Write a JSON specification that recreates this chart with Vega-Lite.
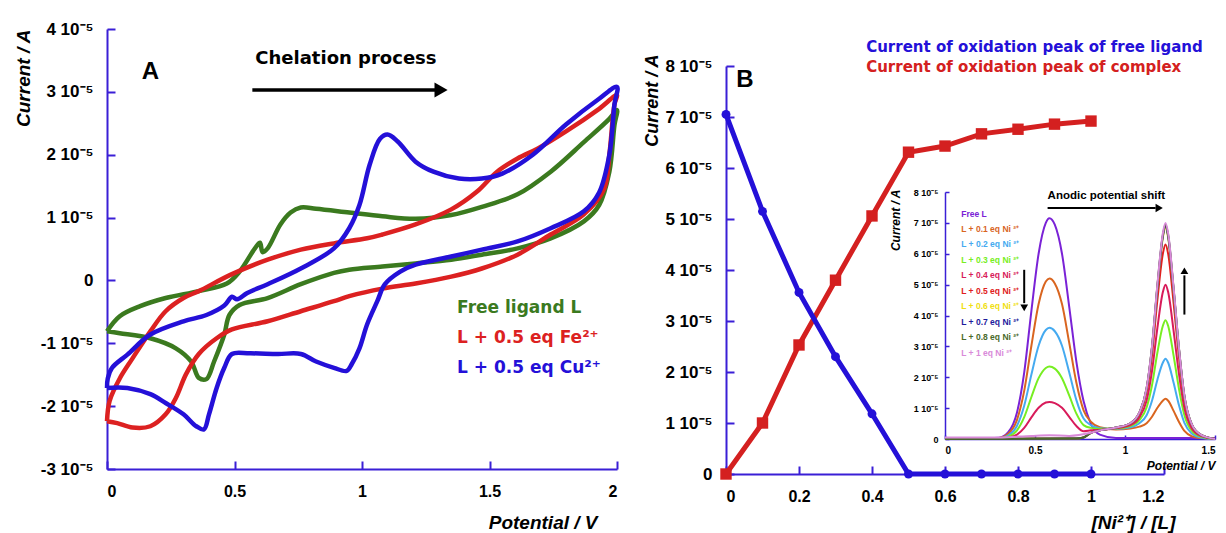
{
  "$schema": "https://vega.github.io/schema/vega-lite/v6.json",
  "autosize": {"type": "pad"},
  "padding": {"left": 13, "top": 20, "right": 5, "bottom": 5},
  "background": "white",
  "bounds": "flush",
  "spacing": 109,
  "config": {
    "view": {"stroke": null},
    "axis": {
      "grid": false,
      "domainColor": "#3a1fd6",
      "tickColor": "#3a1fd6",
      "domainWidth": 2,
      "tickWidth": 2,
      "tickSize": -8,
      "labelFont": "Liberation Sans",
      "labelFontWeight": "bold",
      "labelFontSize": 16,
      "labelColor": "#000000",
      "titleFont": "Liberation Sans",
      "titleFontStyle": "italic",
      "titleFontWeight": "bold",
      "titleFontSize": 19,
      "titleColor": "#000000"
    }
  },
  "resolve": {"scale": {"color": "independent"}},
  "hconcat": [
    {
      "width": 510,
      "height": 440,
      "layer": [
        {
          "data": {"values": [
            {"c":"free","o":1,"v":0,"i":-0.81},{"c":"free","o":2,"v":0.05,"i":-0.57},{"c":"free","o":3,"v":0.13,"i":-0.41},{"c":"free","o":4,"v":0.23,"i":-0.28},{"c":"free","o":5,"v":0.36,"i":-0.17},{"c":"free","o":6,"v":0.47,"i":-0.05},{"c":"free","o":7,"v":0.52,"i":0.14},{"c":"free","o":8,"v":0.58,"i":0.51},{"c":"free","o":9,"v":0.6,"i":0.6},{"c":"free","o":10,"v":0.61,"i":0.45},{"c":"free","o":11,"v":0.63,"i":0.51},{"c":"free","o":12,"v":0.68,"i":0.89},{"c":"free","o":13,"v":0.72,"i":1.08},{"c":"free","o":14,"v":0.76,"i":1.16},{"c":"free","o":15,"v":0.82,"i":1.14},{"c":"free","o":16,"v":0.95,"i":1.08},{"c":"free","o":17,"v":1.08,"i":1.02},{"c":"free","o":18,"v":1.21,"i":0.98},{"c":"free","o":19,"v":1.35,"i":1.04},{"c":"free","o":20,"v":1.47,"i":1.17},{"c":"free","o":21,"v":1.61,"i":1.37},{"c":"free","o":22,"v":1.74,"i":1.73},{"c":"free","o":23,"v":1.87,"i":2.2},{"c":"free","o":24,"v":1.97,"i":2.57},{"c":"free","o":25,"v":2.0,"i":2.71},{"c":"free","o":26,"v":1.99,"i":2.47},{"c":"free","o":27,"v":1.97,"i":1.73},{"c":"free","o":28,"v":1.93,"i":1.2},{"c":"free","o":29,"v":1.87,"i":0.94},{"c":"free","o":30,"v":1.74,"i":0.67},{"c":"free","o":31,"v":1.61,"i":0.51},{"c":"free","o":32,"v":1.47,"i":0.41},{"c":"free","o":33,"v":1.35,"i":0.33},{"c":"free","o":34,"v":1.21,"i":0.27},{"c":"free","o":35,"v":1.08,"i":0.22},{"c":"free","o":36,"v":0.95,"i":0.17},{"c":"free","o":37,"v":0.89,"i":0.12},{"c":"free","o":38,"v":0.76,"i":-0.06},{"c":"free","o":39,"v":0.63,"i":-0.28},{"c":"free","o":40,"v":0.52,"i":-0.39},{"c":"free","o":41,"v":0.48,"i":-0.55},{"c":"free","o":42,"v":0.46,"i":-0.86},{"c":"free","o":43,"v":0.42,"i":-1.29},{"c":"free","o":44,"v":0.39,"i":-1.57},{"c":"free","o":45,"v":0.36,"i":-1.55},{"c":"free","o":46,"v":0.33,"i":-1.29},{"c":"free","o":47,"v":0.27,"i":-1.08},{"c":"free","o":48,"v":0.17,"i":-0.92},{"c":"free","o":49,"v":0.05,"i":-0.84},{"c":"free","o":50,"v":0,"i":-0.81},
            {"c":"Fe","o":1,"v":0,"i":-2.24},{"c":"Fe","o":2,"v":0.01,"i":-1.92},{"c":"Fe","o":3,"v":0.05,"i":-1.56},{"c":"Fe","o":4,"v":0.1,"i":-1.24},{"c":"Fe","o":5,"v":0.17,"i":-0.81},{"c":"Fe","o":6,"v":0.23,"i":-0.49},{"c":"Fe","o":7,"v":0.3,"i":-0.28},{"c":"Fe","o":8,"v":0.36,"i":-0.17},{"c":"Fe","o":9,"v":0.49,"i":0.1},{"c":"Fe","o":10,"v":0.63,"i":0.33},{"c":"Fe","o":11,"v":0.76,"i":0.49},{"c":"Fe","o":12,"v":0.89,"i":0.59},{"c":"Fe","o":13,"v":1.02,"i":0.67},{"c":"Fe","o":14,"v":1.08,"i":0.73},{"c":"Fe","o":15,"v":1.21,"i":0.89},{"c":"Fe","o":16,"v":1.35,"i":1.13},{"c":"Fe","o":17,"v":1.45,"i":1.41},{"c":"Fe","o":18,"v":1.53,"i":1.73},{"c":"Fe","o":19,"v":1.61,"i":1.94},{"c":"Fe","o":20,"v":1.69,"i":2.1},{"c":"Fe","o":21,"v":1.8,"i":2.37},{"c":"Fe","o":22,"v":1.93,"i":2.73},{"c":"Fe","o":23,"v":2.0,"i":2.95},{"c":"Fe","o":24,"v":1.99,"i":2.8},{"c":"Fe","o":25,"v":1.97,"i":2.0},{"c":"Fe","o":26,"v":1.95,"i":1.46},{"c":"Fe","o":27,"v":1.87,"i":1.05},{"c":"Fe","o":28,"v":1.74,"i":0.73},{"c":"Fe","o":29,"v":1.61,"i":0.41},{"c":"Fe","o":30,"v":1.47,"i":0.19},{"c":"Fe","o":31,"v":1.35,"i":0.06},{"c":"Fe","o":32,"v":1.21,"i":-0.05},{"c":"Fe","o":33,"v":1.08,"i":-0.13},{"c":"Fe","o":34,"v":0.95,"i":-0.25},{"c":"Fe","o":35,"v":0.89,"i":-0.33},{"c":"Fe","o":36,"v":0.76,"i":-0.49},{"c":"Fe","o":37,"v":0.63,"i":-0.65},{"c":"Fe","o":38,"v":0.49,"i":-0.78},{"c":"Fe","o":39,"v":0.43,"i":-0.92},{"c":"Fe","o":40,"v":0.36,"i":-1.17},{"c":"Fe","o":41,"v":0.31,"i":-1.49},{"c":"Fe","o":42,"v":0.27,"i":-1.87},{"c":"Fe","o":43,"v":0.23,"i":-2.13},{"c":"Fe","o":44,"v":0.17,"i":-2.32},{"c":"Fe","o":45,"v":0.1,"i":-2.34},{"c":"Fe","o":46,"v":0.04,"i":-2.27},{"c":"Fe","o":47,"v":0,"i":-2.24},
            {"c":"Cu","o":1,"v":0,"i":-1.71},{"c":"Cu","o":2,"v":0.003,"i":-1.56},{"c":"Cu","o":3,"v":0.02,"i":-1.39},{"c":"Cu","o":4,"v":0.08,"i":-1.18},{"c":"Cu","o":5,"v":0.17,"i":-0.86},{"c":"Cu","o":6,"v":0.3,"i":-0.65},{"c":"Cu","o":7,"v":0.39,"i":-0.55},{"c":"Cu","o":8,"v":0.46,"i":-0.4},{"c":"Cu","o":9,"v":0.49,"i":-0.26},{"c":"Cu","o":10,"v":0.51,"i":-0.3},{"c":"Cu","o":11,"v":0.55,"i":-0.2},{"c":"Cu","o":12,"v":0.63,"i":-0.06},{"c":"Cu","o":13,"v":0.76,"i":0.19},{"c":"Cu","o":14,"v":0.89,"i":0.51},{"c":"Cu","o":15,"v":0.95,"i":0.83},{"c":"Cu","o":16,"v":0.99,"i":1.2},{"c":"Cu","o":17,"v":1.03,"i":1.84},{"c":"Cu","o":18,"v":1.07,"i":2.25},{"c":"Cu","o":19,"v":1.1,"i":2.32},{"c":"Cu","o":20,"v":1.14,"i":2.21},{"c":"Cu","o":21,"v":1.21,"i":1.89},{"c":"Cu","o":22,"v":1.28,"i":1.73},{"c":"Cu","o":23,"v":1.38,"i":1.62},{"c":"Cu","o":24,"v":1.47,"i":1.62},{"c":"Cu","o":25,"v":1.55,"i":1.7},{"c":"Cu","o":26,"v":1.67,"i":2.0},{"c":"Cu","o":27,"v":1.8,"i":2.48},{"c":"Cu","o":28,"v":1.93,"i":2.89},{"c":"Cu","o":29,"v":2.0,"i":3.08},{"c":"Cu","o":30,"v":1.99,"i":2.8},{"c":"Cu","o":31,"v":1.97,"i":2.0},{"c":"Cu","o":32,"v":1.93,"i":1.4},{"c":"Cu","o":33,"v":1.87,"i":1.1},{"c":"Cu","o":34,"v":1.74,"i":0.83},{"c":"Cu","o":35,"v":1.61,"i":0.62},{"c":"Cu","o":36,"v":1.47,"i":0.49},{"c":"Cu","o":37,"v":1.35,"i":0.38},{"c":"Cu","o":38,"v":1.21,"i":0.25},{"c":"Cu","o":39,"v":1.15,"i":0.14},{"c":"Cu","o":40,"v":1.09,"i":-0.06},{"c":"Cu","o":41,"v":1.06,"i":-0.33},{"c":"Cu","o":42,"v":1.02,"i":-0.7},{"c":"Cu","o":43,"v":0.99,"i":-1.08},{"c":"Cu","o":44,"v":0.96,"i":-1.33},{"c":"Cu","o":45,"v":0.94,"i":-1.44},{"c":"Cu","o":46,"v":0.89,"i":-1.39},{"c":"Cu","o":47,"v":0.82,"i":-1.29},{"c":"Cu","o":48,"v":0.76,"i":-1.17},{"c":"Cu","o":49,"v":0.67,"i":-1.17},{"c":"Cu","o":50,"v":0.56,"i":-1.16},{"c":"Cu","o":51,"v":0.49,"i":-1.17},{"c":"Cu","o":52,"v":0.46,"i":-1.39},{"c":"Cu","o":53,"v":0.43,"i":-1.71},{"c":"Cu","o":54,"v":0.4,"i":-2.13},{"c":"Cu","o":55,"v":0.38,"i":-2.37},{"c":"Cu","o":56,"v":0.35,"i":-2.32},{"c":"Cu","o":57,"v":0.3,"i":-2.13},{"c":"Cu","o":58,"v":0.23,"i":-1.95},{"c":"Cu","o":59,"v":0.17,"i":-1.81},{"c":"Cu","o":60,"v":0.08,"i":-1.71},{"c":"Cu","o":61,"v":0,"i":-1.71}
          ]},
          "mark": {"type": "line", "strokeWidth": 4.5, "interpolate": "catmull-rom"},
          "encoding": {
            "x": {"field": "v", "type": "quantitative", "scale": {"domain": [0, 2], "nice": false},
                  "axis": {"values": [0, 0.5, 1, 1.5, 2], "format": "~g", "labelPadding": 22, "title": "Potential / V", "titleAlign": "right", "titleX": 490, "titleY": 53, "titleBaseline": "middle"}},
            "y": {"field": "i", "type": "quantitative", "scale": {"domain": [-3, 4], "nice": false, "zero": false},
                  "axis": {"values": [-3, -2, -1, 0, 1, 2, 3, 4], "labelFontSize": 17, "labelExpr": "datum.value == 0 ? '0' : datum.value + ' 10⁻⁵'", "labelPadding": 22, "title": "Current / A", "titleAlign": "right", "titleX": -84, "titleY": 0, "titleBaseline": "middle"}},
            "color": {"field": "c", "type": "nominal", "scale": {"domain": ["free", "Fe", "Cu"], "range": ["#3b7a1f", "#dc2121", "#2410d8"]}, "legend": null},
            "order": {"field": "o", "type": "quantitative"}
          }
        },
        {"data": {"values": [{}]}, "mark": {"type": "text", "text": "A", "font": "Liberation Sans", "fontWeight": "bold", "fontSize": 24, "color": "#000000"}, "encoding": {"x": {"datum": 0.17}, "y": {"datum": 3.32}}},
        {"data": {"values": [{}]}, "mark": {"type": "text", "text": "Chelation process", "font": "DejaVu Sans", "fontWeight": "bold", "fontSize": 18, "color": "#000000"}, "encoding": {"x": {"datum": 0.937}, "y": {"datum": 3.52}}},
        {"data": {"values": [{}]}, "mark": {"type": "rule", "strokeWidth": 3.5, "color": "#000000"}, "encoding": {"x": {"datum": 0.57}, "x2": {"datum": 1.29}, "y": {"datum": 3.03}}},
        {"data": {"values": [{}]}, "mark": {"type": "point", "shape": "triangle-right", "filled": true, "opacity": 1, "size": 230, "color": "#000000"}, "encoding": {"x": {"datum": 1.31}, "y": {"datum": 3.03}}},
        {"data": {"values": [{}]}, "mark": {"type": "text", "text": "Free ligand L", "align": "left", "font": "DejaVu Sans", "fontWeight": "bold", "fontSize": 17, "color": "#3b7a1f"}, "encoding": {"x": {"datum": 1.373}, "y": {"datum": -0.44}}},
        {"data": {"values": [{}]}, "mark": {"type": "text", "text": "L + 0.5 eq Fe²⁺", "align": "left", "font": "DejaVu Sans", "fontWeight": "bold", "fontSize": 17, "color": "#dc2121"}, "encoding": {"x": {"datum": 1.373}, "y": {"datum": -0.92}}},
        {"data": {"values": [{}]}, "mark": {"type": "text", "text": "L + 0.5 eq Cu²⁺", "align": "left", "font": "DejaVu Sans", "fontWeight": "bold", "fontSize": 17, "color": "#2410d8"}, "encoding": {"x": {"datum": 1.373}, "y": {"datum": -1.4}}}
      ]
    },
    {
      "width": 438,
      "height": 445,
      "resolve": {"scale": {"x": "independent", "y": "independent"}, "axis": {"x": "independent", "y": "independent"}},
      "layer": [
        {
          "layer": [
            {
              "data": {"values": [
                {"r":0,"s":"free","i":7.05},{"r":0.1,"s":"free","i":5.15},{"r":0.2,"s":"free","i":3.56},{"r":0.3,"s":"free","i":2.3},{"r":0.4,"s":"free","i":1.18},{"r":0.5,"s":"free","i":0},{"r":0.6,"s":"free","i":0},{"r":0.7,"s":"free","i":0},{"r":0.8,"s":"free","i":0},{"r":0.9,"s":"free","i":0},{"r":1.0,"s":"free","i":0},
                {"r":0,"s":"complex","i":0},{"r":0.1,"s":"complex","i":1.0},{"r":0.2,"s":"complex","i":2.53},{"r":0.3,"s":"complex","i":3.8},{"r":0.4,"s":"complex","i":5.06},{"r":0.5,"s":"complex","i":6.31},{"r":0.6,"s":"complex","i":6.43},{"r":0.7,"s":"complex","i":6.67},{"r":0.8,"s":"complex","i":6.76},{"r":0.9,"s":"complex","i":6.86},{"r":1.0,"s":"complex","i":6.92}
              ]},
              "layer": [
                {
                  "transform": [{"filter": "datum.s == 'complex'"}],
                  "mark": {"type": "line", "color": "#d42020", "strokeWidth": 5, "point": {"filled": true, "shape": "square", "size": 130, "color": "#d42020"}},
                  "encoding": {
                    "x": {"field": "r", "type": "quantitative", "scale": {"domain": [0, 1.2], "nice": false},
                          "axis": {"values": [0, 0.2, 0.4, 0.6, 0.8, 1, 1.2], "format": "~g", "labelPadding": 22, "title": "[Ni²⁺] / [L]", "titleAlign": "right", "titleX": 449, "titleY": 48, "titleBaseline": "middle"}},
                    "y": {"field": "i", "type": "quantitative", "scale": {"domain": [0, 8], "nice": false, "range": [445, 37]},
                          "axis": {"values": [0, 1, 2, 3, 4, 5, 6, 7, 8], "labelFontSize": 17, "labelExpr": "datum.value == 0 ? '0' : datum.value + ' 10⁻⁵'", "labelPadding": 22, "title": "Current / A", "titleFontSize": 18, "titleAlign": "right", "titleX": -74, "titleY": 25, "titleBaseline": "middle"}}
                  }
                },
                {
                  "transform": [{"filter": "datum.s == 'free'"}],
                  "mark": {"type": "line", "color": "#2410d8", "strokeWidth": 5, "point": {"filled": true, "shape": "circle", "size": 80, "color": "#2410d8"}},
                  "encoding": {
                    "x": {"field": "r", "type": "quantitative"},
                    "y": {"field": "i", "type": "quantitative"}
                  }
                }
              ]
            },
            {"data": {"values": [{}]}, "mark": {"type": "text", "text": "B", "font": "Liberation Sans", "fontWeight": "bold", "fontSize": 24, "color": "#000000"}, "encoding": {"x": {"datum": 0.052}, "y": {"datum": 7.73}}},
            {"data": {"values": [{}]}, "mark": {"type": "text", "text": "Current of oxidation peak of free ligand", "align": "left", "font": "DejaVu Sans", "fontWeight": "bold", "fontSize": 15, "color": "#2410d8"}, "encoding": {"x": {"datum": 0.384}, "y": {"datum": 8.37}}},
            {"data": {"values": [{}]}, "mark": {"type": "text", "text": "Current of oxidation peak of complex", "align": "left", "font": "DejaVu Sans", "fontWeight": "bold", "fontSize": 15, "color": "#d42020"}, "encoding": {"x": {"datum": 0.384}, "y": {"datum": 7.98}}}
          ]
        },
        {
          "layer": [
            {
              "data": {"values": [
                {"s":"L","v":0,"i":0},{"s":"L","v":0.3,"i":0.04},{"s":"L","v":0.35,"i":0.21},{"s":"L","v":0.4,"i":0.86},{"s":"L","v":0.44,"i":2.15},{"s":"L","v":0.48,"i":4.15},{"s":"L","v":0.52,"i":6.0},{"s":"L","v":0.56,"i":7.0},{"s":"L","v":0.58,"i":7.15},{"s":"L","v":0.61,"i":6.94},{"s":"L","v":0.65,"i":6.0},{"s":"L","v":0.69,"i":4.29},{"s":"L","v":0.73,"i":2.5},{"s":"L","v":0.77,"i":1.22},{"s":"L","v":0.81,"i":0.5},{"s":"L","v":0.86,"i":0.14},{"s":"L","v":0.95,"i":0.03},{"s":"L","v":1.5,"i":0.03},
                {"s":"0.1","v":0,"i":0},{"s":"0.1","v":0.3,"i":0.03},{"s":"0.1","v":0.35,"i":0.16},{"s":"0.1","v":0.4,"i":0.62},{"s":"0.1","v":0.44,"i":1.56},{"s":"0.1","v":0.48,"i":3.02},{"s":"0.1","v":0.52,"i":4.37},{"s":"0.1","v":0.56,"i":5.1},{"s":"0.1","v":0.58,"i":5.2},{"s":"0.1","v":0.61,"i":5.04},{"s":"0.1","v":0.65,"i":4.37},{"s":"0.1","v":0.69,"i":3.12},{"s":"0.1","v":0.73,"i":1.82},{"s":"0.1","v":0.77,"i":0.93},{"s":"0.1","v":0.81,"i":0.56},{"s":"0.1","v":0.86,"i":0.38},{"s":"0.1","v":0.95,"i":0.31},{"s":"0.1","v":1.03,"i":0.34},{"s":"0.1","v":1.08,"i":0.4},{"s":"0.1","v":1.12,"i":0.51},{"s":"0.1","v":1.15,"i":0.72},{"s":"0.1","v":1.18,"i":1.01},{"s":"0.1","v":1.21,"i":1.24},{"s":"0.1","v":1.225,"i":1.3},{"s":"0.1","v":1.24,"i":1.24},{"s":"0.1","v":1.27,"i":0.91},{"s":"0.1","v":1.3,"i":0.55},{"s":"0.1","v":1.33,"i":0.26},{"s":"0.1","v":1.37,"i":0.09},{"s":"0.1","v":1.42,"i":0.03},{"s":"0.1","v":1.5,"i":0},
                {"s":"0.2","v":0,"i":0},{"s":"0.2","v":0.3,"i":0.02},{"s":"0.2","v":0.35,"i":0.11},{"s":"0.2","v":0.4,"i":0.43},{"s":"0.2","v":0.44,"i":1.08},{"s":"0.2","v":0.48,"i":2.09},{"s":"0.2","v":0.52,"i":3.02},{"s":"0.2","v":0.56,"i":3.53},{"s":"0.2","v":0.58,"i":3.6},{"s":"0.2","v":0.61,"i":3.49},{"s":"0.2","v":0.65,"i":3.02},{"s":"0.2","v":0.69,"i":2.16},{"s":"0.2","v":0.73,"i":1.26},{"s":"0.2","v":0.77,"i":0.66},{"s":"0.2","v":0.81,"i":0.45},{"s":"0.2","v":0.86,"i":0.35},{"s":"0.2","v":0.95,"i":0.33},{"s":"0.2","v":1.03,"i":0.38},{"s":"0.2","v":1.08,"i":0.51},{"s":"0.2","v":1.12,"i":0.77},{"s":"0.2","v":1.15,"i":1.24},{"s":"0.2","v":1.18,"i":1.92},{"s":"0.2","v":1.21,"i":2.47},{"s":"0.2","v":1.225,"i":2.6},{"s":"0.2","v":1.24,"i":2.47},{"s":"0.2","v":1.27,"i":1.82},{"s":"0.2","v":1.3,"i":1.09},{"s":"0.2","v":1.33,"i":0.52},{"s":"0.2","v":1.37,"i":0.18},{"s":"0.2","v":1.42,"i":0.05},{"s":"0.2","v":1.5,"i":0},
                {"s":"0.3","v":0,"i":0},{"s":"0.3","v":0.3,"i":0.01},{"s":"0.3","v":0.35,"i":0.07},{"s":"0.3","v":0.4,"i":0.28},{"s":"0.3","v":0.44,"i":0.71},{"s":"0.3","v":0.48,"i":1.36},{"s":"0.3","v":0.52,"i":1.97},{"s":"0.3","v":0.56,"i":2.3},{"s":"0.3","v":0.58,"i":2.35},{"s":"0.3","v":0.61,"i":2.28},{"s":"0.3","v":0.65,"i":1.97},{"s":"0.3","v":0.69,"i":1.41},{"s":"0.3","v":0.73,"i":0.82},{"s":"0.3","v":0.77,"i":0.45},{"s":"0.3","v":0.81,"i":0.36},{"s":"0.3","v":0.86,"i":0.33},{"s":"0.3","v":0.95,"i":0.34},{"s":"0.3","v":1.03,"i":0.42},{"s":"0.3","v":1.08,"i":0.61},{"s":"0.3","v":1.12,"i":1.02},{"s":"0.3","v":1.15,"i":1.74},{"s":"0.3","v":1.18,"i":2.8},{"s":"0.3","v":1.21,"i":3.66},{"s":"0.3","v":1.225,"i":3.85},{"s":"0.3","v":1.24,"i":3.66},{"s":"0.3","v":1.27,"i":2.7},{"s":"0.3","v":1.3,"i":1.62},{"s":"0.3","v":1.33,"i":0.77},{"s":"0.3","v":1.37,"i":0.27},{"s":"0.3","v":1.42,"i":0.08},{"s":"0.3","v":1.5,"i":0},
                {"s":"0.4","v":0,"i":0},{"s":"0.4","v":0.3,"i":0.01},{"s":"0.4","v":0.35,"i":0.04},{"s":"0.4","v":0.4,"i":0.14},{"s":"0.4","v":0.44,"i":0.36},{"s":"0.4","v":0.48,"i":0.7},{"s":"0.4","v":0.52,"i":1.01},{"s":"0.4","v":0.56,"i":1.18},{"s":"0.4","v":0.58,"i":1.2},{"s":"0.4","v":0.61,"i":1.16},{"s":"0.4","v":0.65,"i":1.01},{"s":"0.4","v":0.69,"i":0.72},{"s":"0.4","v":0.73,"i":0.42},{"s":"0.4","v":0.77,"i":0.25},{"s":"0.4","v":0.81,"i":0.28},{"s":"0.4","v":0.86,"i":0.3},{"s":"0.4","v":0.95,"i":0.35},{"s":"0.4","v":1.03,"i":0.45},{"s":"0.4","v":1.08,"i":0.7},{"s":"0.4","v":1.12,"i":1.25},{"s":"0.4","v":1.15,"i":2.2},{"s":"0.4","v":1.18,"i":3.6},{"s":"0.4","v":1.21,"i":4.75},{"s":"0.4","v":1.225,"i":5.0},{"s":"0.4","v":1.24,"i":4.75},{"s":"0.4","v":1.27,"i":3.5},{"s":"0.4","v":1.3,"i":2.1},{"s":"0.4","v":1.33,"i":1.0},{"s":"0.4","v":1.37,"i":0.35},{"s":"0.4","v":1.42,"i":0.1},{"s":"0.4","v":1.5,"i":0},
                {"s":"0.5","v":0,"i":0},{"s":"0.5","v":0.73,"i":0.02},{"s":"0.5","v":0.77,"i":0.05},{"s":"0.5","v":0.81,"i":0.2},{"s":"0.5","v":0.86,"i":0.28},{"s":"0.5","v":0.95,"i":0.36},{"s":"0.5","v":1.03,"i":0.49},{"s":"0.5","v":1.08,"i":0.8},{"s":"0.5","v":1.12,"i":1.51},{"s":"0.5","v":1.15,"i":2.72},{"s":"0.5","v":1.18,"i":4.51},{"s":"0.5","v":1.21,"i":5.99},{"s":"0.5","v":1.225,"i":6.3},{"s":"0.5","v":1.24,"i":5.99},{"s":"0.5","v":1.27,"i":4.41},{"s":"0.5","v":1.3,"i":2.65},{"s":"0.5","v":1.33,"i":1.26},{"s":"0.5","v":1.37,"i":0.44},{"s":"0.5","v":1.42,"i":0.13},{"s":"0.5","v":1.5,"i":0},
                {"s":"0.6","v":0,"i":0},{"s":"0.6","v":0.73,"i":0.02},{"s":"0.6","v":0.77,"i":0.05},{"s":"0.6","v":0.81,"i":0.2},{"s":"0.6","v":0.86,"i":0.28},{"s":"0.6","v":0.95,"i":0.37},{"s":"0.6","v":1.03,"i":0.51},{"s":"0.6","v":1.08,"i":0.85},{"s":"0.6","v":1.12,"i":1.62},{"s":"0.6","v":1.15,"i":2.94},{"s":"0.6","v":1.18,"i":4.9},{"s":"0.6","v":1.21,"i":6.51},{"s":"0.6","v":1.225,"i":6.85},{"s":"0.6","v":1.24,"i":6.51},{"s":"0.6","v":1.27,"i":4.8},{"s":"0.6","v":1.3,"i":2.88},{"s":"0.6","v":1.33,"i":1.37},{"s":"0.6","v":1.37,"i":0.48},{"s":"0.6","v":1.42,"i":0.14},{"s":"0.6","v":1.5,"i":0},
                {"s":"0.7","v":0,"i":0},{"s":"0.7","v":0.73,"i":0.02},{"s":"0.7","v":0.77,"i":0.05},{"s":"0.7","v":0.81,"i":0.2},{"s":"0.7","v":0.86,"i":0.28},{"s":"0.7","v":0.95,"i":0.37},{"s":"0.7","v":1.03,"i":0.51},{"s":"0.7","v":1.08,"i":0.85},{"s":"0.7","v":1.12,"i":1.63},{"s":"0.7","v":1.15,"i":2.96},{"s":"0.7","v":1.18,"i":4.93},{"s":"0.7","v":1.21,"i":6.56},{"s":"0.7","v":1.225,"i":6.9},{"s":"0.7","v":1.24,"i":6.56},{"s":"0.7","v":1.27,"i":4.83},{"s":"0.7","v":1.3,"i":2.9},{"s":"0.7","v":1.33,"i":1.38},{"s":"0.7","v":1.37,"i":0.48},{"s":"0.7","v":1.42,"i":0.14},{"s":"0.7","v":1.5,"i":0},
                {"s":"0.8","v":0,"i":0},{"s":"0.8","v":0.73,"i":0.02},{"s":"0.8","v":0.77,"i":0.05},{"s":"0.8","v":0.81,"i":0.2},{"s":"0.8","v":0.86,"i":0.28},{"s":"0.8","v":0.95,"i":0.37},{"s":"0.8","v":1.03,"i":0.51},{"s":"0.8","v":1.08,"i":0.86},{"s":"0.8","v":1.12,"i":1.64},{"s":"0.8","v":1.15,"i":2.98},{"s":"0.8","v":1.18,"i":4.97},{"s":"0.8","v":1.21,"i":6.6},{"s":"0.8","v":1.225,"i":6.95},{"s":"0.8","v":1.24,"i":6.6},{"s":"0.8","v":1.27,"i":4.87},{"s":"0.8","v":1.3,"i":2.92},{"s":"0.8","v":1.33,"i":1.39},{"s":"0.8","v":1.37,"i":0.49},{"s":"0.8","v":1.42,"i":0.14},{"s":"0.8","v":1.5,"i":0},
                {"s":"1","v":0,"i":0.05},{"s":"1","v":0.3,"i":0.05},{"s":"1","v":0.48,"i":0.1},{"s":"1","v":0.58,"i":0.12},{"s":"1","v":0.69,"i":0.1},{"s":"1","v":0.81,"i":0.2},{"s":"1","v":0.86,"i":0.28},{"s":"1","v":0.95,"i":0.37},{"s":"1","v":1.03,"i":0.51},{"s":"1","v":1.08,"i":0.86},{"s":"1","v":1.12,"i":1.65},{"s":"1","v":1.15,"i":3.0},{"s":"1","v":1.18,"i":5.0},{"s":"1","v":1.21,"i":6.65},{"s":"1","v":1.225,"i":7.0},{"s":"1","v":1.24,"i":6.65},{"s":"1","v":1.27,"i":4.9},{"s":"1","v":1.3,"i":2.94},{"s":"1","v":1.33,"i":1.4},{"s":"1","v":1.37,"i":0.49},{"s":"1","v":1.42,"i":0.14},{"s":"1","v":1.5,"i":0}
              ]},
              "mark": {"type": "line", "strokeWidth": 2, "interpolate": "monotone"},
              "encoding": {
                "x": {"field": "v", "type": "quantitative", "scale": {"domain": [0, 1.5], "nice": false, "range": [219, 489]},
                      "axis": {"orient": "bottom", "offset": -35, "values": [0, 0.5, 1, 1.5], "format": "~g", "labelFontSize": 10, "labelPadding": 10, "tickSize": -4, "domainWidth": 1.5, "tickWidth": 1.5, "title": "Potential / V", "titleFontSize": 12, "titleAlign": "right", "titleX": 489, "titleY": 26, "titleBaseline": "middle"}},
                "y": {"field": "i", "type": "quantitative", "scale": {"domain": [0, 8], "nice": false, "range": [410, 163]},
                      "axis": {"orient": "left", "offset": -219, "values": [0, 1, 2, 3, 4, 5, 6, 7, 8], "labelFontSize": 9, "labelPadding": 11, "tickSize": -4, "domainWidth": 1.5, "tickWidth": 1.5, "labelExpr": "datum.value == 0 ? '0' : datum.value + ' 10⁻⁵'", "title": "Current / A", "titleFontSize": 12, "titleAlign": "right", "titleX": -50, "titleY": 160, "titleBaseline": "middle"}},
                "color": {"field": "s", "type": "nominal", "scale": {"domain": ["L", "0.1", "0.2", "0.3", "0.4", "0.5", "0.6", "0.7", "0.8", "1"], "range": ["#7a22d6", "#d9651f", "#45aaf0", "#77ee22", "#d81b5a", "#e02020", "#f0e010", "#1d1a9c", "#4a6a2a", "#d98ad9"]}, "legend": null}
              }
            },
            {"data": {"values": [{}]}, "mark": {"type": "text", "text": "Anodic potential shift", "align": "left", "font": "Liberation Sans", "fontWeight": "bold", "fontSize": 11.5, "color": "#000000"}, "encoding": {"x": {"datum": 0.57}, "y": {"datum": 7.87}}},
            {"data": {"values": [{}]}, "mark": {"type": "rule", "strokeWidth": 2, "color": "#000000"}, "encoding": {"x": {"datum": 0.57}, "x2": {"datum": 1.17}, "y": {"datum": 7.48}}},
            {"data": {"values": [{}]}, "mark": {"type": "point", "shape": "triangle-right", "filled": true, "opacity": 1, "size": 70, "color": "#000000"}, "encoding": {"x": {"datum": 1.19}, "y": {"datum": 7.48}}},
            {"data": {"values": [{}]}, "mark": {"type": "rule", "strokeWidth": 2, "color": "#000000"}, "encoding": {"x": {"datum": 0.44}, "y": {"datum": 5.48}, "y2": {"datum": 4.4}}},
            {"data": {"values": [{}]}, "mark": {"type": "point", "shape": "triangle-down", "filled": true, "opacity": 1, "size": 60, "color": "#000000"}, "encoding": {"x": {"datum": 0.44}, "y": {"datum": 4.25}}},
            {"data": {"values": [{}]}, "mark": {"type": "rule", "strokeWidth": 2, "color": "#000000"}, "encoding": {"x": {"datum": 1.33}, "y": {"datum": 4.03}, "y2": {"datum": 5.3}}},
            {"data": {"values": [{}]}, "mark": {"type": "point", "shape": "triangle-up", "filled": true, "opacity": 1, "size": 60, "color": "#000000"}, "encoding": {"x": {"datum": 1.33}, "y": {"datum": 5.45}}},
            {"data": {"values": [{}]}, "mark": {"type": "text", "text": "Free L", "align": "left", "font": "Liberation Sans", "fontWeight": "bold", "fontSize": 8.5, "color": "#7a22d6"}, "encoding": {"x": {"datum": 0.09}, "y": {"datum": 7.3}}},
            {"data": {"values": [{}]}, "mark": {"type": "text", "text": "L + 0.1 eq Ni ²⁺", "align": "left", "font": "Liberation Sans", "fontWeight": "bold", "fontSize": 8.5, "color": "#d9651f"}, "encoding": {"x": {"datum": 0.09}, "y": {"datum": 6.8}}},
            {"data": {"values": [{}]}, "mark": {"type": "text", "text": "L + 0.2 eq Ni ²⁺", "align": "left", "font": "Liberation Sans", "fontWeight": "bold", "fontSize": 8.5, "color": "#45aaf0"}, "encoding": {"x": {"datum": 0.09}, "y": {"datum": 6.3}}},
            {"data": {"values": [{}]}, "mark": {"type": "text", "text": "L + 0.3 eq Ni ²⁺", "align": "left", "font": "Liberation Sans", "fontWeight": "bold", "fontSize": 8.5, "color": "#77ee22"}, "encoding": {"x": {"datum": 0.09}, "y": {"datum": 5.8}}},
            {"data": {"values": [{}]}, "mark": {"type": "text", "text": "L + 0.4 eq Ni ²⁺", "align": "left", "font": "Liberation Sans", "fontWeight": "bold", "fontSize": 8.5, "color": "#d81b5a"}, "encoding": {"x": {"datum": 0.09}, "y": {"datum": 5.3}}},
            {"data": {"values": [{}]}, "mark": {"type": "text", "text": "L + 0.5 eq Ni ²⁺", "align": "left", "font": "Liberation Sans", "fontWeight": "bold", "fontSize": 8.5, "color": "#e02020"}, "encoding": {"x": {"datum": 0.09}, "y": {"datum": 4.8}}},
            {"data": {"values": [{}]}, "mark": {"type": "text", "text": "L + 0.6 eq Ni ²⁺", "align": "left", "font": "Liberation Sans", "fontWeight": "bold", "fontSize": 8.5, "color": "#f0e010"}, "encoding": {"x": {"datum": 0.09}, "y": {"datum": 4.3}}},
            {"data": {"values": [{}]}, "mark": {"type": "text", "text": "L + 0.7 eq Ni ²⁺", "align": "left", "font": "Liberation Sans", "fontWeight": "bold", "fontSize": 8.5, "color": "#1d1a9c"}, "encoding": {"x": {"datum": 0.09}, "y": {"datum": 3.8}}},
            {"data": {"values": [{}]}, "mark": {"type": "text", "text": "L + 0.8 eq Ni ²⁺", "align": "left", "font": "Liberation Sans", "fontWeight": "bold", "fontSize": 8.5, "color": "#4a6a2a"}, "encoding": {"x": {"datum": 0.09}, "y": {"datum": 3.3}}},
            {"data": {"values": [{}]}, "mark": {"type": "text", "text": "L + 1 eq Ni ²⁺", "align": "left", "font": "Liberation Sans", "fontWeight": "bold", "fontSize": 8.5, "color": "#d98ad9"}, "encoding": {"x": {"datum": 0.09}, "y": {"datum": 2.8}}}
          ]
        }
      ]
    }
  ]
}
